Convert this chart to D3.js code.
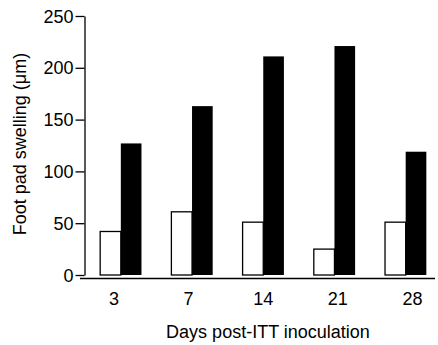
<!DOCTYPE html>
<html>
<head>
<meta charset="utf-8">
<script src="https://cdn.jsdelivr.net/npm/d3@7"></script>
<style>
  body { margin: 0; background: #fff; }
  svg text { font-family: "Liberation Sans", Arial, sans-serif; fill: #000; }
</style>
</head>
<body>
<div id="chart"></div>
<script>
var days = ["3", "7", "14", "21", "28"];
var controlValues = [42, 61, 51, 25, 51];
var ittValues = [127, 163, 211, 221, 119];
var yTicks = [0, 50, 100, 150, 200, 250];

var width = 438, height = 345;
var margin = {top: 16, right: 3, bottom: 70, left: 84};

var svg = d3.select("#chart").append("svg")
  .attr("width", width)
  .attr("height", height);

var x = d3.scaleBand()
  .domain(days)
  .range([84.5, 442])
  .paddingInner(0.42)
  .paddingOuter(0.22);

// labels sit a little off the group centres in the original
var xLabel = d3.scalePoint()
  .domain(days)
  .range([114, 412.5]);

var y = d3.scaleLinear()
  .domain([0, 250])
  .range([275, margin.top]);

var barW = x.bandwidth() / 2;

// y axis
var gy = svg.append("g")
  .attr("transform", "translate(84.5,0)")
  .call(d3.axisLeft(y).tickValues(yTicks).tickSize(9).tickPadding(2).tickSizeOuter(0));
gy.select(".domain").attr("stroke", "#000").attr("stroke-width", 1.3);
gy.selectAll(".tick line").attr("stroke-width", 1.3);
gy.selectAll(".tick text").attr("font-size", 18).attr("dy", "0.34em");

// x axis line and labels
svg.append("line")
  .attr("x1", 80).attr("x2", 435)
  .attr("y1", 278.5).attr("y2", 278.5)
  .attr("stroke", "#000").attr("stroke-width", 1.5);

svg.append("g").selectAll("text")
  .data(days)
  .join("text")
  .attr("x", d => xLabel(d))
  .attr("y", 305)
  .attr("text-anchor", "middle")
  .attr("font-size", 18)
  .text(d => d);

// bars
svg.append("g").selectAll("rect")
  .data(days)
  .join("rect")
  .attr("x", d => x(d))
  .attr("y", (d, i) => y(controlValues[i]))
  .attr("width", barW)
  .attr("height", (d, i) => y(0) - y(controlValues[i]))
  .attr("fill", "#fff")
  .attr("stroke", "#000")
  .attr("stroke-width", 1.3);

svg.append("g").selectAll("rect")
  .data(days)
  .join("rect")
  .attr("x", d => x(d) + barW)
  .attr("y", (d, i) => y(ittValues[i]))
  .attr("width", barW)
  .attr("height", (d, i) => y(0) - y(ittValues[i]))
  .attr("fill", "#000");

// axis titles
svg.append("text")
  .attr("x", 268)
  .attr("y", 338)
  .attr("text-anchor", "middle")
  .attr("font-size", 18)
  .text("Days post-ITT inoculation");

svg.append("text")
  .attr("transform", "translate(26,144) rotate(-90)")
  .attr("text-anchor", "middle")
  .attr("font-size", 18)
  .text("Foot pad swelling (μm)");
</script>
</body>
</html>
